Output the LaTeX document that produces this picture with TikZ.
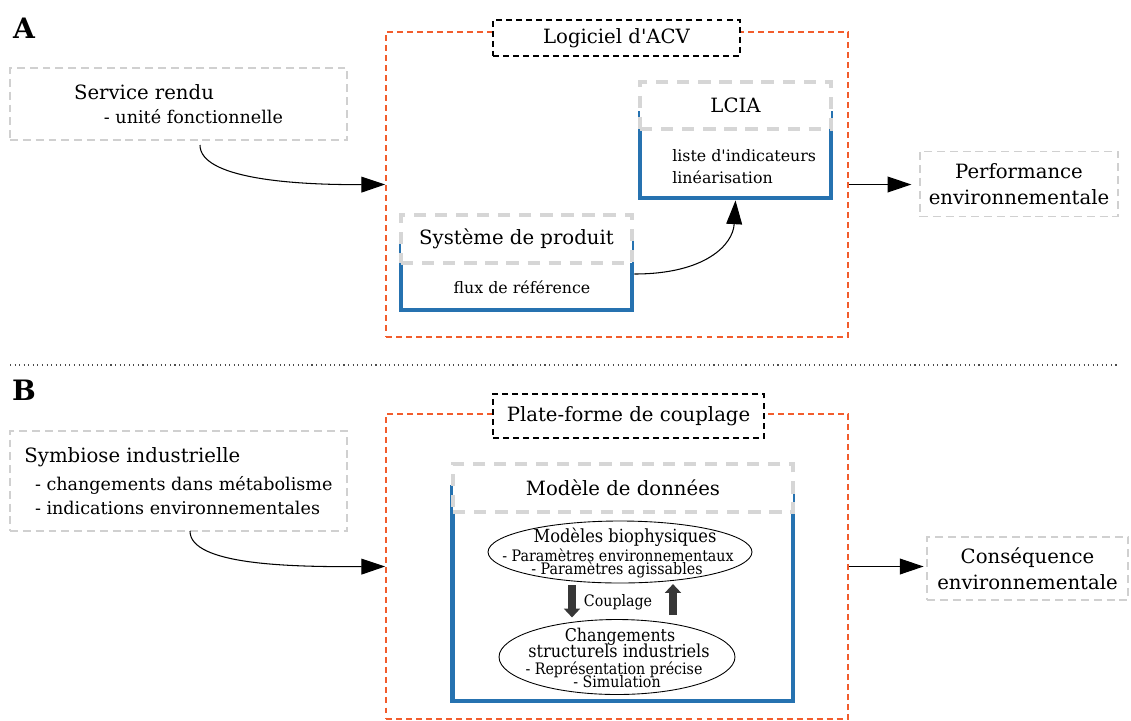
\documentclass[tikz,border=0pt]{standalone}
\usepackage{fontspec}
\setmainfont{DejaVu Serif}[Ligatures=TeXOff]
\newfontfamily\condfont{DejaVu Serif Condensed}[Ligatures=TeXOff]
\usetikzlibrary{arrows.meta,calc,shapes.geometric}
\definecolor{orng}{RGB}{242,92,44}
\definecolor{lgray}{RGB}{208,208,208}
\definecolor{hgray}{RGB}{214,214,214}
\definecolor{bblue}{RGB}{38,114,176}
\definecolor{dgray}{RGB}{55,55,55}
\newcommand\MyMain{\fontsize{11.2}{15}\selectfont}
\newcommand\MySub{\fontsize{10}{13}\selectfont}
\newcommand\MyBlue{\fontsize{9}{12.5}\selectfont}
\newcommand\MyEll{\condfont\fontsize{9}{9}\selectfont}
\begin{document}
\begin{tikzpicture}[x=0.02cm,y=-0.02cm,
  outerbox/.style={draw=orng,line width=1.1pt,dash pattern=on 3.4pt off 2.3pt,inner sep=0pt},
  titlebox/.style={draw=black,line width=1.1pt,dash pattern=on 3.4pt off 2.3pt,fill=white,inner sep=0pt,font=\MyMain},
  bluebox/.style={draw=bblue,line width=2.8pt,inner sep=0pt},
  headbox/.style={draw=hgray,line width=2.4pt,dash pattern=on 7pt off 5pt,fill=white,inner sep=0pt,font=\MyMain},
  graybox/.style={draw=lgray,line width=0.9pt,dash pattern=on 4.5pt off 2.8pt,inner sep=0pt,font=\MyMain,align=center},
  conn/.style={line width=0.6pt,-{Triangle[length=13.5pt,width=9pt]}},
  ellbox/.style={draw=black,line width=0.5pt,ellipse,inner sep=0pt},
  ellt/.style={font=\MyEll,inner sep=0pt},
  thick arrow/.style={draw=dgray,line width=4.5pt,-{Triangle[length=5pt,width=9pt]}},
  seclabel/.style={font=\bfseries\fontsize{16}{18}\selectfont,inner sep=0pt},
]
\useasboundingbox (0,0) rectangle (1131,720);

% ---------- Part A ----------
\node[seclabel] (labA) at (24,28) {A};

\node[graybox,minimum width=6.74cm,minimum height=1.44cm,align=left] (serv) at (178.5,104)
  {Service rendu\\[-1pt]\hspace*{17pt}{\MySub - unité fonctionnelle}};

\node[outerbox,minimum width=9.24cm,minimum height=6.1cm] (acvA) at (617,184.5) {};
\node[titlebox,minimum width=4.94cm,minimum height=0.72cm] (logi) at (616.5,38) {Logiciel d'ACV};

\node[bluebox,minimum width=3.82cm,minimum height=1.7cm] (lciab) at (735.5,155.5) {};
\node[headbox,minimum width=3.82cm,minimum height=0.94cm] (lcia) at (735.5,105.5) {LCIA};
\node[font=\MyBlue,align=left,anchor=west,inner sep=0pt] (lcial) at (672,167) {liste d'indicateurs\\linéarisation};

\node[bluebox,minimum width=4.62cm,minimum height=1.4cm] (sysb) at (516.5,275) {};
\node[headbox,minimum width=4.62cm,minimum height=0.96cm] (sys) at (516.5,239) {Système de produit};
\node[font=\MyBlue,inner sep=0pt] (sysl) at (522,287) {flux de référence};

\node[graybox,minimum width=3.96cm,minimum height=1.3cm] (perf) at (1019,184) {Performance\\environnementale};

\coordinate (s1) at (200,145);
\draw[conn] (s1) .. controls (200,178) and (290,185) .. (acvA.west);
\draw[conn] (sysb.east |- 0,274) .. controls (705,274) and (733,245) .. (lciab.south);
\draw[conn,shorten >=4.5pt] (acvA.east) -- (acvA.east -| perf.west);

% ---------- separator ----------
\coordinate (sepL) at (10,365);
\coordinate (sepR) at (1120,365);
\draw[dotted,line width=0.6pt,black!70] (sepL) -- (sepR);

% ---------- Part B ----------
\node[seclabel] (labB) at (24,390) {B};

\node[graybox,minimum width=6.74cm,minimum height=2cm,align=left] (symb) at (178.5,481)
  {Symbiose industrielle\\[1pt]{\MySub\hspace*{6pt}- changements dans métabolisme}\\[-1pt]{\MySub\hspace*{6pt}- indications environnementales}};

\node[outerbox,minimum width=9.24cm,minimum height=6.1cm] (acvB) at (617,566.5) {};
\node[titlebox,minimum width=5.42cm,minimum height=0.88cm] (plat) at (628.5,416) {Plate-forme de couplage};

\node[bluebox,minimum width=6.82cm,minimum height=4.28cm] (modb) at (622.5,594) {};
\node[headbox,minimum width=6.8cm,minimum height=0.96cm] (mod) at (623,488) {Modèle de données};

\node[ellbox,minimum width=5.28cm,minimum height=1.24cm] (ell1) at (620,552) {};
\node[ellt] (e1a) at (625,537) {\fontsize{10.3}{10}\selectfont Modèles biophysiques};
\node[ellt] (e1b) at (618,555) {- Paramètres environnementaux};
\node[ellt] (e1c) at (617,570) {- Paramètres agissables};

\node[ellbox,minimum width=4.72cm,minimum height=1.5cm] (ell2) at (617,657) {};
\node[ellt] (e2a) at (620,637) {\fontsize{10}{10}\selectfont Changements};
\node[ellt] (e2b) at (619,651) {\fontsize{10.2}{10}\selectfont structurels industriels};
\node[ellt] (e2c) at (614,670) {- Représentation précise};
\node[ellt] (e2d) at (617,682) {- Simulation};

\node[ellt] (coup) at (618,602) {\fontsize{9}{10}\selectfont Couplage};
\draw[thick arrow] ($(ell1.south)+(-48,2)$) -- ($(ell1.south)+(-48,34)$);
\draw[thick arrow] ($(ell2.north)+(56,-4)$) -- ($(ell2.north)+(56,-35)$);

\node[graybox,minimum width=4.02cm,minimum height=1.26cm] (cons) at (1027.5,568.5) {Conséquence\\environnementale};

\coordinate (s2) at (190,531);
\draw[conn] (s2) .. controls (190,565) and (290,567) .. (acvB.west);
\draw[conn,shorten >=1.5pt] (acvB.east) -- (acvB.east -| cons.west);
\end{tikzpicture}
\end{document}
